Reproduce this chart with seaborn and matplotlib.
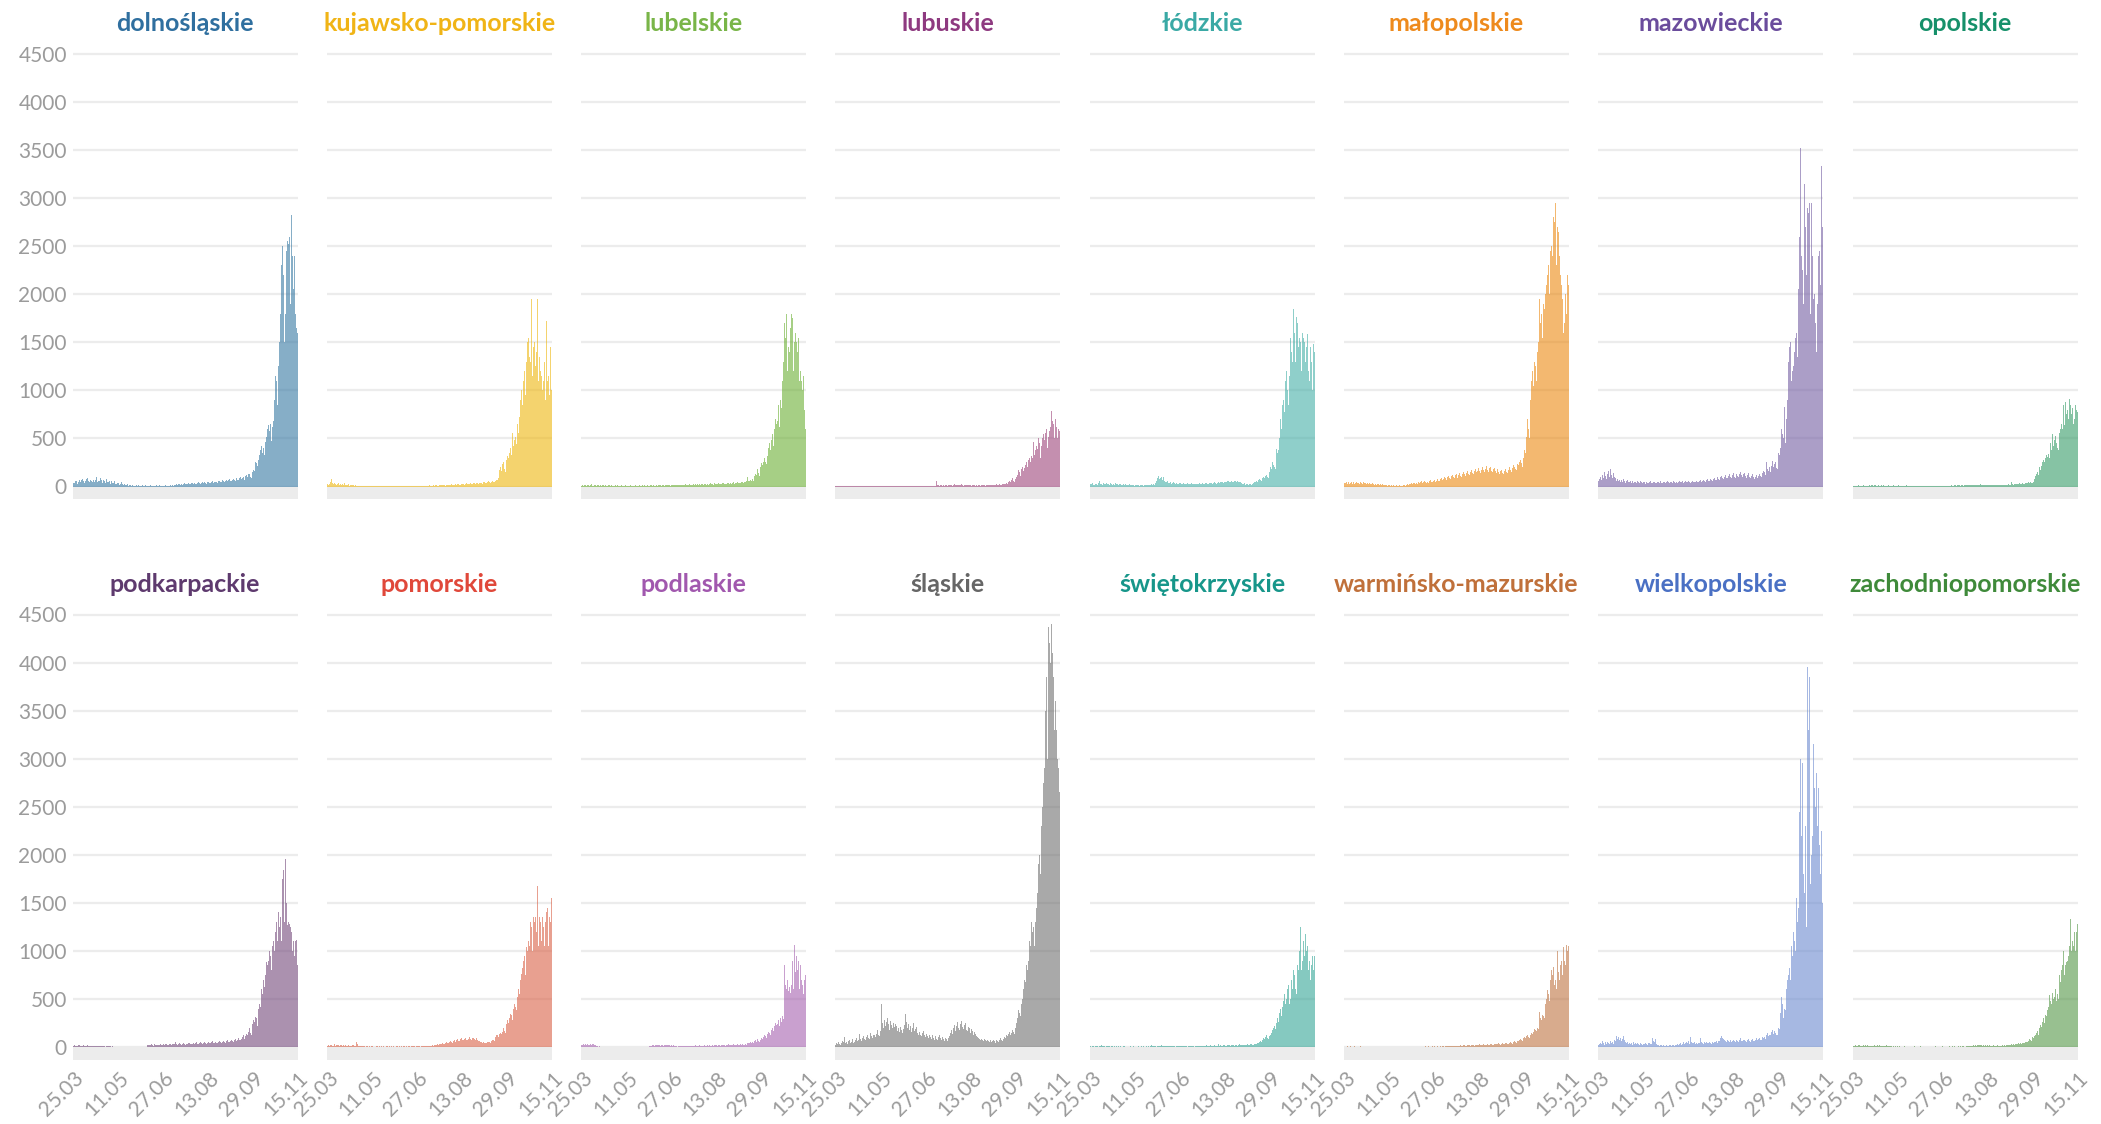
import matplotlib
matplotlib.use('Agg')
import matplotlib.pyplot as plt
import matplotlib.transforms as mtransforms
import pandas as pd
import seaborn as sns

# daily new cases per voivodeship, 25.03 -> 15.11 (236 days)
START = '2020-03-25'
TICK_DATES = ['2020-03-25', '2020-05-11', '2020-06-27', '2020-08-13', '2020-09-29', '2020-11-15']

REGIONS = ['dolnośląskie', 'kujawsko-pomorskie', 'lubelskie', 'lubuskie',
           'łódzkie', 'małopolskie', 'mazowieckie', 'opolskie',
           'podkarpackie', 'pomorskie', 'podlaskie', 'śląskie',
           'świętokrzyskie', 'warmińsko-mazurskie', 'wielkopolskie', 'zachodniopomorskie']

TITLE_COLORS = ['#2f6f9f', '#f0b416', '#79b548', '#8e3a80',
                '#3aa9a5', '#ee8a1c', '#6a4c9c', '#16906a',
                '#5e3a6e', '#e0483a', '#a158ae', '#666666',
                '#17968a', '#c0703a', '#4a70c4', '#3f8a3a']

BAR_COLORS = ['#3578a3', '#eeb60d', '#6baf34', '#9d447b',
              '#44afa7', '#eb8911', '#735da3', '#359b67',
              '#73487b', '#da6146', '#a561af', '#707070',
              '#34a596', '#be7341', '#6b8ad0', '#539646']

dolnoslaskie = [
    20, 35, 40, 55, 60, 30, 45, 70, 50, 65, 80, 55, 40, 60, 75, 90, 60, 50, 70, 55,
    45, 80, 65, 50, 70, 95, 45, 60, 55, 85, 70, 40, 65, 60, 35, 75, 50, 45, 55, 30,
    60, 40, 45, 35, 55, 30, 25, 40, 35, 20, 30, 45, 25, 20, 30, 15, 20, 25, 10, 15,
    20, 10, 12, 8, 15, 10, 5, 12, 8, 20, 10, 6, 9, 14, 5, 8, 12, 6, 10, 4,
    8, 12, 5, 10, 7, 15, 6, 9, 11, 4, 8, 12, 6, 10, 5, 9, 7, 13, 8, 5,
    10, 6, 12, 8, 15, 9, 20, 14, 18, 25, 15, 22, 30, 18, 25, 20, 28, 35, 22, 30,
    25, 38, 30, 22, 35, 40, 28, 33, 45, 30, 25, 38, 42, 35, 28, 40, 48, 32, 45, 38,
    30, 42, 50, 40, 35, 48, 55, 38, 44, 52, 60, 45, 40, 55, 62, 48, 50, 65, 58, 45,
    60, 70, 55, 65, 75, 62, 58, 72, 80, 68, 60, 78, 85, 70, 65, 90, 95, 75, 88, 100,
    70, 105, 115, 100, 125, 130, 95, 85, 150, 170, 160, 250, 245, 260, 210, 280, 330, 380, 420, 350,
    400, 330, 460, 520, 600, 640, 580, 650, 470, 620, 680, 900, 1150, 1100, 1000, 850, 1250, 1500, 1800, 2300,
    2500, 2200, 1500, 1800, 2450, 2550, 2520, 2600, 1900, 2820, 2400, 2050, 2400, 1800, 1650, 1600]

kujawsko_pomorskie = [
    25, 20, 30, 45, 80, 35, 20, 25, 40, 30, 15, 25, 35, 20, 30, 15, 25, 20, 35, 15,
    20, 15, 25, 10, 18, 12, 20, 8, 15, 10, 12, 6, 10, 8, 5, 9, 4, 6, 3, 5,
    4, 3, 5, 2, 4, 3, 1, 4, 2, 3, 5, 2, 1, 3, 2, 4, 1, 2, 3, 1,
    2, 4, 1, 3, 2, 1, 3, 2, 4, 1, 2, 3, 1, 2, 5, 3, 2, 4, 1, 3,
    2, 5, 3, 4, 6, 2, 3, 5, 7, 4, 3, 6, 8, 5, 4, 7, 3, 5, 9, 6,
    5, 8, 6, 10, 7, 5, 9, 12, 8, 6, 10, 14, 9, 7, 11, 13, 10, 8, 12, 15,
    11, 14, 18, 12, 10, 16, 20, 15, 13, 18, 22, 16, 14, 20, 25, 18, 15, 22, 28, 20,
    18, 25, 30, 22, 20, 28, 32, 25, 22, 30, 35, 28, 24, 32, 38, 30, 26, 35, 40, 28,
    32, 40, 35, 30, 42, 48, 38, 35, 45, 55, 42, 38, 50, 60, 48, 45, 60, 70, 55, 65,
    90, 170, 200, 160, 230, 250, 180, 150, 280, 320, 300, 350, 400, 330, 560, 420, 480, 520, 440, 600,
    650, 560, 720, 900, 1000, 850, 1100, 1200, 950, 1300, 1500, 1550, 1350, 1300, 1950, 1150, 1450, 1500, 1250, 1400,
    1600, 1950, 1100, 1350, 1200, 1150, 1000, 1100, 1300, 900, 1720, 1100, 1150, 950, 1450, 1000]

lubelskie = [
    10, 15, 8, 12, 20, 6, 14, 18, 10, 12, 25, 8, 15, 10, 18, 12, 6, 20, 14, 9,
    15, 10, 12, 18, 8, 14, 6, 10, 16, 12, 8, 14, 10, 6, 12, 9, 15, 7, 11, 8,
    10, 6, 12, 8, 5, 9, 11, 7, 10, 4, 8, 12, 6, 9, 5, 10, 7, 12, 8, 6,
    9, 12, 7, 10, 14, 8, 11, 6, 9, 13, 10, 7, 12, 15, 8, 11, 9, 14, 10, 12,
    8, 15, 11, 13, 9, 16, 12, 10, 14, 18, 11, 13, 16, 10, 15, 12, 20, 14, 11, 17,
    13, 16, 12, 18, 15, 11, 20, 14, 17, 22, 13, 16, 19, 25, 15, 18, 14, 21, 17, 24,
    16, 20, 26, 18, 22, 15, 24, 28, 19, 23, 30, 20, 25, 18, 27, 32, 22, 26, 20, 35,
    24, 28, 22, 30, 36, 25, 29, 24, 33, 38, 27, 30, 26, 35, 40, 28, 32, 28, 38, 42,
    30, 36, 32, 40, 45, 34, 38, 35, 44, 50, 38, 42, 48, 60, 100, 55, 62, 70, 58, 80,
    60, 110, 130, 120, 150, 180, 140, 110, 200, 240, 220, 260, 300, 250, 230, 320, 400, 450, 380, 480,
    550, 420, 600, 700, 650, 720, 680, 850, 620, 900, 820, 1100, 1300, 1700, 1550, 1800, 1200, 1450, 1400, 1650,
    1800, 1750, 1200, 1500, 1600, 1500, 1400, 1300, 1550, 1100, 1200, 1100, 1000, 1150, 800, 600]

lubuskie = [
    2, 3, 1, 4, 2, 5, 1, 3, 2, 6, 3, 1, 4, 2, 3, 5, 1, 2, 4, 3,
    1, 2, 3, 1, 4, 2, 1, 3, 2, 1, 2, 4, 1, 3, 2, 1, 3, 2, 1, 2,
    3, 1, 2, 1, 4, 2, 1, 3, 1, 2, 5, 1, 2, 3, 1, 2, 1, 4, 2, 1,
    2, 1, 3, 1, 2, 4, 1, 2, 1, 3, 2, 1, 2, 1, 3, 2, 1, 4, 1, 2,
    1, 2, 1, 3, 2, 1, 2, 4, 1, 2, 3, 1, 2, 1, 3, 2, 1, 2, 3, 1,
    2, 3, 1, 4, 2, 5, 60, 20, 15, 10, 12, 18, 8, 14, 10, 16, 12, 9, 15, 11,
    13, 18, 10, 15, 22, 12, 9, 16, 20, 14, 11, 18, 25, 12, 10, 15, 19, 13, 11, 17,
    12, 15, 10, 14, 18, 11, 8, 13, 16, 10, 12, 15, 9, 14, 11, 17, 13, 10, 16, 12,
    14, 18, 12, 16, 20, 15, 13, 18, 22, 16, 14, 20, 25, 18, 15, 24, 30, 22, 28, 35,
    30, 45, 60, 50, 70, 90, 60, 50, 80, 100, 95, 120, 170, 150, 110, 180, 200, 160, 190, 220,
    260, 200, 280, 300, 250, 320, 300, 460, 330, 380, 420, 390, 480, 500, 450, 300, 420, 500, 550, 480,
    560, 600, 400, 520, 580, 620, 790, 680, 650, 500, 700, 620, 500, 650, 600, 580]

lodzkie = [
    30, 25, 40, 20, 35, 15, 25, 30, 20, 40, 60, 25, 30, 20, 35, 28, 22, 38, 25, 30,
    20, 35, 28, 18, 30, 25, 15, 32, 22, 28, 18, 25, 30, 20, 15, 24, 18, 22, 12, 20,
    15, 22, 18, 12, 20, 16, 10, 18, 14, 20, 12, 16, 10, 15, 12, 18, 10, 14, 20, 12,
    15, 18, 12, 20, 25, 18, 22, 15, 30, 40, 60, 85, 110, 75, 90, 100, 70, 95, 60, 50,
    45, 55, 40, 35, 48, 30, 38, 42, 32, 28, 35, 40, 30, 25, 36, 32, 28, 30, 35, 25,
    30, 28, 35, 22, 30, 25, 32, 28, 24, 30, 26, 35, 28, 22, 30, 32, 25, 28, 35, 30,
    28, 32, 38, 30, 26, 35, 40, 32, 28, 38, 42, 35, 30, 45, 40, 48, 38, 42, 50, 45,
    40, 52, 48, 44, 55, 60, 50, 45, 58, 52, 48, 55, 62, 50, 45, 55, 48, 42, 50, 38,
    30, 25, 32, 20, 28, 22, 18, 25, 30, 20, 24, 35, 42, 50, 60, 55, 48, 70, 80, 65,
    60, 90, 100, 85, 110, 120, 95, 90, 150, 200, 180, 250, 220, 200, 180, 390, 350, 420, 380, 500,
    700, 600, 850, 900, 780, 1100, 1200, 1000, 850, 1150, 1550, 1400, 1300, 1850, 1600, 1300, 1760, 1700, 1750, 1450,
    1550, 1500, 1200, 1600, 1550, 1500, 1300, 1450, 1590, 1200, 1100, 1450, 1300, 1000, 1480, 1400]

malopolskie = [
    40, 35, 50, 30, 45, 25, 38, 42, 30, 48, 35, 28, 40, 45, 32, 38, 25, 42, 36, 30,
    45, 32, 38, 28, 40, 22, 35, 30, 25, 38, 28, 20, 32, 26, 18, 30, 24, 20, 28, 15,
    22, 18, 12, 20, 15, 10, 14, 12, 8, 15, 10, 12, 6, 10, 8, 12, 5, 9, 11, 7,
    10, 8, 12, 15, 10, 20, 25, 18, 30, 22, 35, 28, 40, 32, 25, 45, 38, 30, 50, 35,
    42, 55, 38, 48, 60, 45, 35, 52, 40, 58, 65, 48, 42, 55, 70, 50, 45, 62, 80, 55,
    60, 75, 90, 68, 80, 100, 85, 70, 95, 110, 88, 78, 105, 120, 95, 85, 115, 130, 100, 90,
    120, 140, 110, 100, 135, 150, 125, 110, 145, 160, 130, 120, 155, 175, 140, 125, 160, 180, 150, 130,
    165, 190, 160, 140, 175, 200, 170, 150, 185, 210, 175, 155, 190, 200, 165, 150, 180, 195, 160, 140,
    170, 185, 155, 135, 160, 175, 145, 130, 165, 180, 150, 140, 175, 200, 170, 155, 190, 220, 200, 180,
    170, 230, 260, 220, 250, 280, 240, 200, 300, 380, 350, 520, 700, 600, 500, 900, 1100, 1200, 1050, 1300,
    1250, 1100, 1400, 1550, 1500, 1950, 1700, 1800, 1550, 1900, 1850, 2000, 2100, 2200, 2300, 2000, 2450, 2500, 2400, 2800,
    2750, 2950, 2300, 2700, 2650, 2600, 2400, 2200, 2100, 1950, 1600, 1700, 2000, 1800, 2200, 2100]

mazowieckie = [
    60, 80, 100, 70, 120, 90, 150, 110, 80, 130, 160, 100, 184, 120, 90, 140, 100, 70, 90, 60,
    80, 55, 70, 50, 65, 45, 75, 60, 40, 55, 70, 50, 45, 60, 40, 55, 35, 50, 65, 45,
    40, 55, 48, 35, 60, 42, 38, 52, 45, 30, 50, 40, 35, 48, 55, 40, 32, 45, 50, 38,
    42, 35, 50, 45, 38, 55, 40, 35, 48, 52, 38, 45, 60, 42, 35, 50, 45, 40, 55, 48,
    40, 52, 45, 38, 50, 60, 42, 48, 55, 40, 45, 58, 50, 42, 55, 48, 40, 52, 60, 45,
    50, 42, 55, 60, 48, 45, 58, 65, 50, 55, 70, 60, 52, 65, 75, 58, 62, 80, 68, 60,
    75, 85, 70, 65, 90, 100, 80, 72, 95, 110, 85, 78, 100, 120, 90, 85, 110, 130, 95, 88,
    115, 140, 100, 90, 125, 145, 110, 95, 130, 150, 115, 100, 135, 145, 105, 90, 120, 140, 100, 85,
    110, 125, 95, 80, 100, 120, 90, 85, 110, 135, 105, 100, 140, 160, 150, 120, 250, 180, 160, 200,
    150, 210, 270, 200, 230, 250, 190, 180, 300, 350, 330, 400, 600, 550, 500, 830, 450, 700, 900, 1300,
    1450, 1500, 1100, 1200, 1250, 1400, 1550, 1600, 1350, 2050, 2000, 2600, 3520, 2400, 2250, 1900, 3150, 2700, 2200, 2900,
    2850, 2950, 1800, 2950, 2400, 1950, 2000, 1700, 1400, 1900, 2400, 2300, 2450, 2100, 3330, 2700]

opolskie = [
    5, 8, 6, 10, 4, 7, 12, 5, 9, 6, 8, 11, 5, 7, 10, 6, 9, 14, 8, 12,
    20, 10, 15, 8, 12, 9, 7, 14, 10, 6, 11, 8, 13, 9, 5, 10, 7, 12, 8, 6,
    9, 7, 11, 5, 8, 10, 6, 9, 12, 7, 5, 8, 10, 6, 9, 7, 11, 5, 8, 6,
    7, 10, 5, 8, 6, 9, 12, 7, 5, 8, 10, 6, 4, 8, 7, 5, 9, 6, 8, 5,
    6, 8, 5, 7, 4, 9, 6, 5, 8, 7, 5, 6, 9, 4, 7, 6, 8, 5, 7, 9,
    8, 10, 7, 12, 9, 8, 11, 14, 10, 9, 13, 16, 12, 10, 15, 12, 9, 14, 18, 11,
    13, 16, 12, 18, 15, 11, 14, 20, 16, 13, 18, 15, 12, 17, 21, 14, 12, 16, 19, 13,
    15, 18, 14, 12, 16, 20, 15, 13, 18, 14, 11, 16, 19, 14, 12, 17, 15, 13, 18, 20,
    16, 19, 15, 22, 18, 16, 50, 24, 20, 28, 25, 22, 30, 26, 24, 32, 28, 25, 35, 30,
    28, 40, 35, 32, 45, 38, 42, 35, 38, 50, 80, 110, 130, 150, 120, 180, 200, 170, 210, 250,
    280, 250, 300, 330, 310, 340, 300, 450, 380, 550, 420, 480, 530, 450, 400, 380, 500, 560, 600, 650,
    600, 850, 640, 880, 750, 800, 700, 910, 850, 750, 820, 650, 700, 850, 800, 780]

podkarpackie = [
    15, 12, 18, 10, 14, 8, 16, 20, 12, 15, 10, 18, 14, 9, 12, 16, 11, 14, 10, 13,
    12, 8, 15, 10, 7, 12, 9, 14, 10, 6, 11, 8, 12, 9, 5, 10, 7, 11, 8, 6,
    4, 6, 3, 5, 2, 4, 3, 1, 4, 2, 3, 5, 2, 1, 3, 2, 4, 1, 2, 3,
    1, 3, 2, 4, 1, 2, 3, 1, 2, 4, 3, 1, 2, 3, 1, 2, 5, 3, 20, 25,
    18, 22, 28, 20, 15, 25, 30, 22, 18, 26, 20, 24, 32, 25, 20, 28, 22, 30, 35, 26,
    24, 30, 28, 22, 32, 36, 28, 25, 50, 30, 26, 34, 38, 28, 24, 32, 40, 30, 26, 35,
    30, 38, 42, 32, 28, 36, 45, 34, 30, 40, 48, 36, 32, 42, 50, 38, 34, 45, 52, 40,
    36, 46, 55, 42, 38, 48, 58, 44, 40, 50, 80, 46, 42, 52, 60, 48, 44, 55, 65, 50,
    46, 58, 70, 55, 50, 62, 75, 58, 54, 68, 82, 65, 60, 75, 90, 72, 68, 85, 100, 120,
    80, 110, 140, 120, 160, 200, 150, 130, 240, 280, 260, 310, 300, 250, 220, 400, 450, 420, 600, 550,
    700, 620, 750, 880, 850, 900, 1000, 950, 800, 1050, 1100, 1000, 1200, 1300, 1320, 1100, 1400, 1250, 1350, 1100,
    1750, 1840, 1300, 1960, 1500, 1270, 1300, 1280, 1250, 1200, 1000, 1100, 950, 1100, 1110, 850]

pomorskie = [
    15, 20, 12, 25, 18, 10, 22, 15, 28, 12, 20, 16, 25, 10, 18, 22, 14, 20, 12, 16,
    10, 14, 18, 12, 8, 15, 20, 10, 25, 14, 12, 50, 30, 15, 10, 12, 8, 10, 6, 9,
    5, 8, 6, 4, 7, 5, 9, 6, 4, 8, 5, 3, 7, 6, 4, 8, 5, 6, 3, 7,
    5, 4, 8, 6, 3, 7, 5, 9, 4, 6, 8, 5, 3, 7, 6, 4, 9, 5, 7, 4,
    6, 8, 5, 7, 4, 9, 6, 5, 8, 10, 6, 7, 9, 5, 8, 6, 10, 7, 5, 8,
    7, 9, 6, 10, 8, 7, 11, 9, 12, 15, 18, 14, 20, 25, 18, 22, 28, 20, 30, 35,
    28, 40, 35, 30, 45, 52, 40, 38, 55, 60, 48, 45, 65, 70, 55, 50, 75, 85, 65, 60,
    80, 90, 72, 68, 85, 95, 78, 70, 88, 100, 82, 75, 92, 98, 80, 70, 85, 90, 72, 60,
    65, 55, 48, 40, 50, 45, 38, 42, 50, 55, 48, 45, 60, 75, 70, 65, 100, 120, 110, 130,
    100, 140, 150, 135, 160, 200, 170, 150, 240, 280, 250, 300, 340, 330, 280, 400, 450, 420, 380, 480,
    520, 600, 550, 700, 760, 820, 900, 950, 750, 1040, 1000, 1100, 1050, 1300, 1250, 1000, 1350, 1300, 1350, 1200,
    1350, 1680, 1050, 1350, 1300, 1100, 1350, 1250, 1050, 1300, 1400, 1450, 1050, 1350, 1300, 1550]

podlaskie = [
    20, 25, 30, 22, 28, 18, 32, 26, 20, 30, 24, 28, 22, 30, 25, 18, 10, 8, 5, 6,
    4, 3, 5, 2, 4, 3, 1, 4, 2, 3, 5, 2, 1, 3, 2, 4, 1, 2, 3, 1,
    2, 4, 1, 3, 2, 1, 3, 2, 4, 1, 2, 3, 1, 2, 4, 3, 2, 1, 3, 2,
    1, 2, 3, 1, 4, 2, 1, 3, 2, 1, 2, 10, 15, 12, 18, 20, 14, 22, 16, 25,
    20, 18, 24, 15, 22, 19, 14, 25, 20, 16, 22, 18, 24, 12, 20, 15, 18, 8, 10, 6,
    8, 5, 10, 7, 12, 9, 6, 11, 8, 14, 10, 7, 12, 9, 15, 11, 8, 13, 10, 16,
    12, 9, 14, 11, 18, 13, 10, 15, 12, 20, 14, 11, 16, 13, 22, 15, 12, 18, 14, 20,
    16, 13, 18, 15, 24, 17, 14, 20, 16, 25, 18, 15, 22, 17, 28, 20, 16, 24, 19, 30,
    22, 18, 26, 20, 32, 24, 20, 28, 22, 35, 26, 22, 30, 25, 40, 45, 38, 50, 42, 55,
    40, 60, 70, 55, 65, 80, 60, 50, 75, 90, 80, 100, 120, 110, 90, 140, 160, 150, 130, 180,
    200, 170, 220, 250, 230, 200, 240, 280, 220, 300, 260, 320, 290, 850, 650, 600, 700, 580, 620, 560,
    650, 900, 600, 1060, 780, 950, 800, 850, 900, 600, 850, 700, 650, 550, 700, 750]

slaskie = [
    25, 40, 30, 55, 35, 20, 45, 60, 50, 100, 40, 55, 35, 60, 70, 45, 50, 80, 40, 65,
    55, 70, 90, 60, 75, 140, 80, 65, 95, 110, 85, 70, 100, 120, 90, 80, 150, 110, 95, 130,
    160, 120, 100, 140, 180, 130, 110, 170, 450, 250, 200, 280, 220, 260, 300, 240, 180, 270, 230, 200,
    250, 210, 180, 240, 220, 170, 200, 160, 210, 180, 150, 190, 230, 340, 260, 200, 240, 180, 220, 160,
    200, 250, 170, 140, 190, 210, 150, 120, 160, 130, 110, 150, 170, 120, 100, 140, 110, 90, 130, 100,
    80, 120, 95, 70, 110, 130, 85, 75, 100, 120, 90, 70, 100, 80, 65, 95, 85, 60, 90, 110,
    150, 180, 140, 200, 230, 170, 160, 220, 260, 200, 180, 240, 270, 210, 190, 230, 250, 180, 170, 210,
    200, 150, 190, 170, 130, 160, 140, 110, 130, 100, 90, 80, 70, 85, 75, 60, 80, 70, 65, 75,
    60, 55, 70, 50, 65, 75, 60, 45, 70, 80, 65, 55, 75, 90, 70, 60, 85, 100, 90, 120,
    110, 140, 160, 130, 150, 180, 160, 140, 200, 250, 240, 300, 380, 350, 320, 450, 500, 600, 700, 680,
    850, 800, 900, 1100, 1050, 1300, 1200, 1250, 1050, 1300, 1450, 1600, 1750, 1900, 2000, 1800, 2300, 2500, 2750, 2900,
    3500, 3850, 3000, 4375, 4200, 4000, 4400, 4100, 3850, 3300, 3600, 3300, 3000, 4400, 2900, 2650]

swietokrzyskie = [
    10, 5, 8, 12, 6, 4, 9, 15, 7, 5, 10, 8, 20, 6, 9, 12, 5, 8, 10, 6,
    8, 5, 7, 10, 4, 6, 9, 5, 8, 3, 6, 4, 7, 5, 3, 6, 8, 4, 5, 3,
    5, 4, 6, 3, 5, 8, 4, 6, 3, 5, 4, 7, 3, 5, 6, 4, 8, 5, 3, 6,
    4, 7, 5, 12, 18, 8, 6, 10, 14, 7, 5, 9, 12, 6, 8, 20, 10, 7, 12, 15,
    8, 11, 6, 9, 14, 7, 10, 12, 8, 5, 9, 11, 7, 10, 6, 8, 12, 9, 6, 10,
    7, 9, 5, 8, 11, 6, 9, 7, 10, 5, 8, 6, 12, 9, 7, 10, 15, 8, 11, 13,
    9, 12, 18, 10, 14, 11, 16, 13, 9, 15, 20, 12, 10, 16, 14, 30, 12, 18, 15, 11,
    16, 20, 14, 12, 18, 22, 16, 13, 20, 25, 18, 15, 22, 20, 17, 14, 24, 28, 20, 16,
    22, 26, 20, 18, 25, 30, 22, 20, 28, 32, 25, 22, 30, 35, 28, 40, 45, 38, 50, 60,
    50, 70, 90, 80, 100, 120, 90, 80, 110, 130, 150, 180, 200, 220, 190, 250, 300, 280, 260, 350,
    400, 320, 420, 480, 550, 450, 500, 600, 650, 450, 500, 700, 600, 800, 750, 600, 550, 850, 950, 800,
    1000, 1250, 800, 900, 1100, 950, 1180, 1000, 1050, 800, 900, 700, 850, 950, 800, 950]

warminsko_mazurskie = [
    3, 5, 2, 6, 4, 1, 7, 3, 5, 2, 4, 6, 3, 1, 5, 2, 4, 8, 3, 5,
    2, 4, 1, 3, 5, 2, 1, 4, 3, 2, 5, 1, 3, 2, 4, 1, 2, 3, 1, 4,
    2, 1, 3, 2, 1, 4, 2, 3, 1, 2, 1, 3, 2, 4, 1, 2, 3, 1, 2, 1,
    3, 2, 1, 4, 2, 1, 3, 2, 5, 1, 2, 3, 1, 4, 2, 3, 1, 2, 4, 3,
    2, 4, 3, 5, 2, 6, 3, 4, 7, 2, 5, 3, 6, 4, 8, 3, 5, 4, 6, 3,
    5, 7, 4, 8, 6, 5, 9, 7, 6, 10, 8, 12, 9, 7, 11, 10, 14, 9, 12, 15,
    11, 14, 18, 12, 10, 16, 20, 14, 12, 18, 22, 16, 13, 20, 25, 18, 15, 22, 26, 20,
    17, 24, 28, 21, 18, 25, 30, 22, 19, 26, 32, 24, 20, 28, 34, 26, 22, 30, 36, 27,
    24, 32, 38, 29, 26, 35, 40, 31, 28, 38, 45, 34, 30, 42, 50, 38, 35, 50, 60, 55,
    45, 60, 70, 65, 75, 80, 70, 65, 90, 100, 95, 110, 120, 105, 95, 130, 150, 140, 160, 190,
    180, 170, 200, 210, 190, 365, 300, 280, 330, 320, 300, 450, 500, 590, 550, 480, 700, 800, 750, 830,
    650, 700, 600, 1000, 780, 800, 700, 850, 900, 750, 1040, 900, 850, 1060, 1000, 1050]

wielkopolskie = [
    20, 35, 45, 30, 60, 40, 25, 50, 35, 55, 45, 30, 65, 40, 50, 35, 70, 90, 60, 110,
    80, 100, 70, 95, 60, 85, 110, 75, 55, 40, 50, 35, 45, 30, 40, 25, 50, 35, 30, 45,
    28, 40, 32, 25, 38, 30, 22, 35, 28, 40, 30, 25, 38, 45, 30, 35, 90, 60, 50, 85,
    40, 30, 25, 20, 15, 22, 18, 12, 20, 15, 10, 18, 14, 12, 20, 16, 10, 25, 18, 15,
    22, 28, 20, 35, 25, 30, 40, 22, 35, 50, 30, 45, 55, 40, 60, 35, 100, 50, 45, 40,
    55, 35, 48, 40, 30, 45, 38, 90, 50, 42, 35, 55, 40, 48, 38, 45, 52, 40, 35, 50,
    45, 55, 48, 60, 50, 42, 58, 65, 90, 110, 95, 80, 70, 65, 55, 75, 60, 50, 70, 55,
    62, 75, 58, 50, 68, 80, 60, 55, 72, 90, 65, 58, 75, 70, 60, 52, 70, 85, 62, 55,
    68, 80, 65, 58, 75, 90, 70, 62, 85, 95, 78, 70, 100, 90, 100, 80, 120, 150, 110, 130,
    120, 160, 180, 140, 170, 150, 130, 120, 180, 200, 190, 350, 520, 450, 300, 400, 380, 600, 700, 750,
    820, 700, 1050, 950, 1200, 1100, 1000, 1550, 1300, 1450, 1800, 2450, 3000, 2200, 2950, 1800, 1600, 2300, 1250, 3950,
    3300, 3850, 1700, 2000, 2200, 3150, 2700, 2500, 2850, 2300, 2700, 2400, 2100, 1800, 2250, 1500]

zachodniopomorskie = [
    12, 15, 10, 18, 14, 8, 16, 20, 12, 15, 10, 18, 14, 22, 12, 16, 11, 14, 10, 13,
    15, 12, 18, 10, 14, 9, 16, 12, 20, 11, 15, 10, 13, 8, 12, 16, 10, 14, 9, 12,
    8, 5, 7, 4, 6, 3, 5, 7, 4, 6, 2, 5, 3, 4, 6, 3, 5, 2, 4, 3,
    5, 3, 4, 2, 6, 3, 4, 5, 2, 3, 4, 6, 3, 2, 5, 3, 4, 2, 3, 5,
    2, 4, 3, 5, 2, 3, 6, 4, 3, 5, 2, 4, 3, 5, 6, 3, 4, 2, 5, 3,
    4, 6, 3, 5, 7, 4, 6, 3, 5, 8, 4, 6, 5, 7, 3, 6, 8, 5, 4, 7,
    8, 10, 12, 9, 14, 11, 16, 13, 18, 15, 20, 17, 22, 18, 16, 20, 14, 18, 12, 16,
    14, 18, 12, 16, 10, 14, 12, 16, 11, 15, 13, 18, 12, 15, 10, 14, 12, 16, 13, 18,
    15, 20, 18, 22, 25, 20, 28, 24, 30, 26, 32, 28, 35, 30, 38, 34, 40, 36, 45, 42,
    38, 50, 55, 48, 60, 80, 70, 65, 100, 95, 110, 120, 150, 170, 130, 160, 200, 230, 210, 260,
    300, 250, 330, 320, 380, 420, 540, 480, 450, 560, 500, 520, 600, 480, 550, 500, 700, 750, 680, 800,
    850, 1000, 750, 850, 880, 900, 950, 1050, 1330, 1000, 1100, 1050, 1200, 1000, 1200, 1280]

SERIES = [dolnoslaskie, kujawsko_pomorskie, lubelskie, lubuskie,
          lodzkie, malopolskie, mazowieckie, opolskie,
          podkarpackie, pomorskie, podlaskie, slaskie,
          swietokrzyskie, warminsko_mazurskie, wielkopolskie, zachodniopomorskie]

dates = pd.date_range(START, periods=236)
for name, s in zip(REGIONS, SERIES):
    assert len(s) == len(dates), (name, len(s))

# long-form table for seaborn
df = pd.concat([
    pd.DataFrame({'region': name, 'day': range(len(dates)), 'cases': vals})
    for name, vals in zip(REGIONS, SERIES)
], ignore_index=True)

tick_pos = [dates.get_loc(pd.Timestamp(d)) for d in TICK_DATES]
tick_lab = [pd.Timestamp(d).strftime('%d.%m') for d in TICK_DATES]

# =============================================================================
# LAYOUT (pixel based, figure is 2101 x 1124)
# =============================================================================
sns.set_theme(style='white')
plt.rcParams['font.family'] = ['Lato', 'DejaVu Sans']

W, H = 2101, 1124
fig = plt.figure(figsize=(W / 100, H / 100), dpi=100)

LEFT0, STEP, PANEL_W = 72.5, 254.3, 225.0
ZERO_Y = [486.5, 1047.0]
PX_PER_UNIT = 432.5 / 4500
Y_LO, Y_HI = -132, 4560
GRAY = '#9b9b9b'

for i, (name, tcol, bcol) in enumerate(zip(REGIONS, TITLE_COLORS, BAR_COLORS)):
    row, col = divmod(i, 8)
    x0 = LEFT0 + col * STEP
    bottom_px = ZERO_Y[row] - Y_LO * PX_PER_UNIT
    height_px = (Y_HI - Y_LO) * PX_PER_UNIT
    ax = fig.add_axes([x0 / W, 1 - bottom_px / H, PANEL_W / W, height_px / H])

    sub = df[df['region'] == name]
    sns.barplot(data=sub, x='day', y='cases', ax=ax, color=bcol, width=1.0,
                saturation=1, alpha=0.6, errorbar=None, linewidth=0)

    ax.axhspan(Y_LO, 0, color='#ececec', lw=0, zorder=0)
    ax.set_xlim(-0.5, len(dates) - 0.5)
    ax.set_ylim(Y_LO, Y_HI)
    ax.set_yticks(range(0, 4501, 500))
    ax.grid(axis='y', color='#ececec', lw=1.6)
    ax.grid(axis='x', visible=False)
    ax.set_axisbelow(True)
    for sp in ax.spines.values():
        sp.set_visible(False)
    ax.set_xlabel('')
    ax.set_ylabel('')
    ax.tick_params(length=0, labelsize=15, colors=GRAY)

    if col == 0:
        ax.tick_params(axis='y', pad=4)
    else:
        ax.set_yticklabels([])

    ax.set_xticks(tick_pos)
    if row == 1:
        ax.set_xticklabels(tick_lab, rotation=45, ha='right', va='center',
                           rotation_mode='anchor')
        ax.tick_params(axis='x', pad=11)
        shift = mtransforms.ScaledTranslation(8 / 100, 0, fig.dpi_scale_trans)
        for lab in ax.get_xticklabels():
            lab.set_transform(lab.get_transform() + shift)
    else:
        ax.set_xticklabels([])

    title_y = ZERO_Y[row] - 463
    fig.text((x0 + PANEL_W / 2) / W, 1 - title_y / H, name, ha='center', va='center',
             fontsize=18, fontweight='bold', color=tcol)

fig.savefig('out.png', dpi=100)
plt.close(fig)
